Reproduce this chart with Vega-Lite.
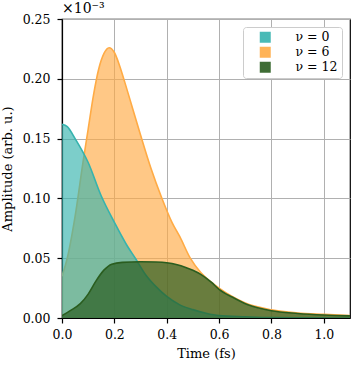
{
  "$schema": "https://vega.github.io/schema/vega-lite/v6.json",
  "width": 288,
  "height": 299,
  "autosize": {"type": "none"},
  "padding": {"left": 62, "top": 19, "right": 1, "bottom": 47},
  "background": "white",
  "title": {"text": "×10⁻³", "anchor": "start", "frame": "group", "font": "DejaVu Serif", "fontSize": 14, "fontWeight": "normal", "offset": -3, "color": "black"},
  "config": {
    "font": "DejaVu Serif",
    "view": {"stroke": "black", "strokeWidth": 1.2},
    "axis": {
      "labelFont": "DejaVu Serif", "labelFontSize": 12.5, "labelColor": "black", "labelFlush": false,
      "titleFont": "DejaVu Serif", "titleFontSize": 13, "titleFontWeight": "normal", "titleColor": "black",
      "domainColor": "black", "domainWidth": 1.2, "tickColor": "black", "tickSize": 5, "tickWidth": 1.2,
      "gridColor": "#b0b0b0", "gridWidth": 1, "gridOpacity": 1
    },
    "legend": {"labelFont": "DejaVu Serif"}
  },
  "data": {"values": [
    {"series": "ν = 0", "t": 0.00, "v": 0.162},
    {"series": "ν = 0", "t": 0.02, "v": 0.160},
    {"series": "ν = 0", "t": 0.05, "v": 0.150},
    {"series": "ν = 0", "t": 0.10, "v": 0.130},
    {"series": "ν = 0", "t": 0.15, "v": 0.102},
    {"series": "ν = 0", "t": 0.20, "v": 0.080},
    {"series": "ν = 0", "t": 0.25, "v": 0.060},
    {"series": "ν = 0", "t": 0.28, "v": 0.050},
    {"series": "ν = 0", "t": 0.32, "v": 0.036},
    {"series": "ν = 0", "t": 0.36, "v": 0.026},
    {"series": "ν = 0", "t": 0.40, "v": 0.018},
    {"series": "ν = 0", "t": 0.45, "v": 0.011},
    {"series": "ν = 0", "t": 0.50, "v": 0.007},
    {"series": "ν = 0", "t": 0.55, "v": 0.004},
    {"series": "ν = 0", "t": 0.60, "v": 0.002},
    {"series": "ν = 0", "t": 0.70, "v": 0.001},
    {"series": "ν = 0", "t": 0.80, "v": 0.0003},
    {"series": "ν = 0", "t": 1.10, "v": 0.0},
    {"series": "ν = 6", "t": 0.00, "v": 0.035},
    {"series": "ν = 6", "t": 0.02, "v": 0.050},
    {"series": "ν = 6", "t": 0.05, "v": 0.085},
    {"series": "ν = 6", "t": 0.08, "v": 0.130},
    {"series": "ν = 6", "t": 0.10, "v": 0.158},
    {"series": "ν = 6", "t": 0.12, "v": 0.186},
    {"series": "ν = 6", "t": 0.14, "v": 0.208},
    {"series": "ν = 6", "t": 0.16, "v": 0.221},
    {"series": "ν = 6", "t": 0.18, "v": 0.226},
    {"series": "ν = 6", "t": 0.20, "v": 0.222},
    {"series": "ν = 6", "t": 0.22, "v": 0.211},
    {"series": "ν = 6", "t": 0.24, "v": 0.197},
    {"series": "ν = 6", "t": 0.27, "v": 0.175},
    {"series": "ν = 6", "t": 0.30, "v": 0.153},
    {"series": "ν = 6", "t": 0.34, "v": 0.125},
    {"series": "ν = 6", "t": 0.38, "v": 0.101},
    {"series": "ν = 6", "t": 0.42, "v": 0.080},
    {"series": "ν = 6", "t": 0.45, "v": 0.068},
    {"series": "ν = 6", "t": 0.49, "v": 0.050},
    {"series": "ν = 6", "t": 0.53, "v": 0.038},
    {"series": "ν = 6", "t": 0.57, "v": 0.030},
    {"series": "ν = 6", "t": 0.60, "v": 0.025},
    {"series": "ν = 6", "t": 0.65, "v": 0.018},
    {"series": "ν = 6", "t": 0.70, "v": 0.0125},
    {"series": "ν = 6", "t": 0.80, "v": 0.0068},
    {"series": "ν = 6", "t": 0.90, "v": 0.0042},
    {"series": "ν = 6", "t": 1.00, "v": 0.003},
    {"series": "ν = 6", "t": 1.10, "v": 0.002},
    {"series": "ν = 12", "t": 0.00, "v": 0.002},
    {"series": "ν = 12", "t": 0.03, "v": 0.006},
    {"series": "ν = 12", "t": 0.07, "v": 0.012},
    {"series": "ν = 12", "t": 0.10, "v": 0.020},
    {"series": "ν = 12", "t": 0.13, "v": 0.031},
    {"series": "ν = 12", "t": 0.16, "v": 0.040},
    {"series": "ν = 12", "t": 0.19, "v": 0.045},
    {"series": "ν = 12", "t": 0.23, "v": 0.0465},
    {"series": "ν = 12", "t": 0.30, "v": 0.047},
    {"series": "ν = 12", "t": 0.36, "v": 0.0468},
    {"series": "ν = 12", "t": 0.40, "v": 0.0462},
    {"series": "ν = 12", "t": 0.44, "v": 0.0445},
    {"series": "ν = 12", "t": 0.47, "v": 0.0425},
    {"series": "ν = 12", "t": 0.50, "v": 0.040},
    {"series": "ν = 12", "t": 0.53, "v": 0.0365},
    {"series": "ν = 12", "t": 0.57, "v": 0.030},
    {"series": "ν = 12", "t": 0.60, "v": 0.024},
    {"series": "ν = 12", "t": 0.65, "v": 0.0175},
    {"series": "ν = 12", "t": 0.71, "v": 0.011},
    {"series": "ν = 12", "t": 0.80, "v": 0.006},
    {"series": "ν = 12", "t": 0.90, "v": 0.0038},
    {"series": "ν = 12", "t": 1.00, "v": 0.0025},
    {"series": "ν = 12", "t": 1.10, "v": 0.0018}
  ]},
  "encoding": {
    "x": {"field": "t", "type": "quantitative", "title": "Time (fs)",
      "scale": {"domain": [0, 1.1], "nice": false, "zero": false},
      "axis": {"values": [0, 0.2, 0.4, 0.6, 0.8, 1.0], "format": ".1f", "labelPadding": 5, "titlePadding": 7}},
    "y": {"field": "v", "type": "quantitative", "title": "Amplitude (arb. u.)", "stack": null,
      "scale": {"domain": [0, 0.25], "nice": false},
      "axis": {"values": [0, 0.05, 0.1, 0.15, 0.2, 0.25], "format": ".2f", "labelPadding": 7, "titlePadding": 8}},
    "color": {"field": "series", "type": "nominal",
      "scale": {"domain": ["ν = 0", "ν = 6", "ν = 12"], "range": ["#36b3ae", "#ffab45", "#2a5d1f"]},
      "legend": {"title": null, "orient": "top-right", "offset": 8, "padding": 4, "fillColor": "white", "strokeColor": "#cccccc", "cornerRadius": 3,
        "symbolType": "square", "symbolSize": 121, "symbolOpacity": 0.9, "symbolStrokeWidth": 0,
        "labelFontSize": 12.5, "labelColor": "black", "labelOffset": 24, "rowPadding": 2, "symbolOffset": 12}}
  },
  "layer": [
    {"transform": [{"filter": "datum.series === 'ν = 6'"}],
     "mark": {"type": "area", "interpolate": "monotone", "fillOpacity": 0.65, "line": {"strokeWidth": 1.6}, "clip": true}},
    {"transform": [{"filter": "datum.series === 'ν = 0'"}],
     "mark": {"type": "area", "interpolate": "monotone", "fillOpacity": 0.65, "line": {"strokeWidth": 1.6}, "clip": true}},
    {"transform": [{"filter": "datum.series === 'ν = 12'"}],
     "mark": {"type": "area", "interpolate": "monotone", "fillOpacity": 0.7, "line": {"strokeWidth": 1.6}, "clip": true}}
  ]
}
